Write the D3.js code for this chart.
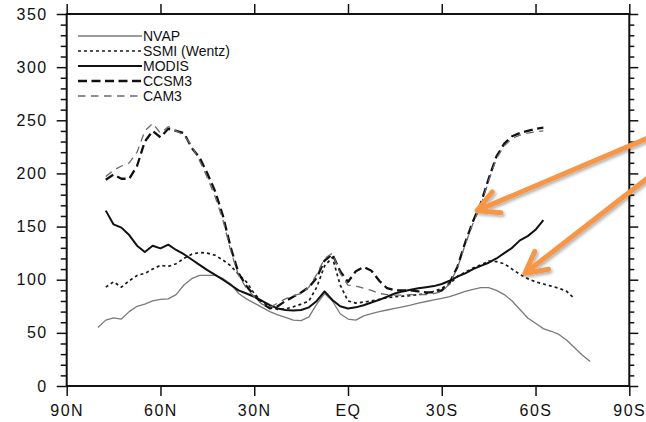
<!DOCTYPE html>
<html>
<head>
<meta charset="utf-8">
<script src="https://cdn.jsdelivr.net/npm/d3@7"></script>
<style>
  body { margin: 0; background: #fff; }
  svg { display: block; font-family: "Liberation Sans", Arial, sans-serif; }
</style>
</head>
<body>
<div id="chart"></div>
<script>
// Latitude grid (degrees, north positive)
var lats = [80, 77.5, 75, 72.5, 70, 67.5, 65, 62.5, 60, 57.5, 55, 52.5, 50, 47.5, 45, 42.5,
    40, 37.5, 35, 32.5, 30, 27.5, 25, 22.5, 20, 17.5, 15, 12.5, 10, 7.5, 5, 2.5,
    0, -2.5, -5, -7.5, -10, -12.5, -15, -17.5, -20, -22.5, -25, -27.5, -30, -32.5, -35, -37.5,
    -40, -42.5, -45, -47.5, -50, -52.5, -55, -57.5, -60, -62.5, -65, -67.5, -70, -72.5, -75, -77.5];

// Zonal mean values (null = no data)
var nvap = [55, 62, 64, 63, 70, 75, 77, 80, 81.5, 82, 86, 95, 101, 104, 104, 104,
    101, 96, 87, 82, 78, 74, 70, 67, 64.5, 62, 61.5, 65, 77, 87, 80, 68,
    63, 62, 66, 68, 70, 71.5, 73, 74.5, 76, 78, 79.5, 81, 82.5, 84, 86.5, 89,
    91, 92.5, 92.5, 90, 86, 80, 72, 64, 59, 54, 51.5, 48.5, 43, 36, 29, 23];

var ssmi = [null, 93, 98, 93, 99, 104, 106, 110, 113.5, 112.5, 115, 120, 124, 125.5, 125, 123,
    118.5, 113, 105, 98, 87, 79, 75, 72, 72.5, 74.5, 77, 80, 93, 113, 121, 95,
    80, 78, 79, 80, 81.5, 83, 84, 84.5, 85, 86, 87, 89, 92, 96, 103, 107,
    111, 114, 117.5, 117, 115, 110, 105, 101, 98, 96, 94, 92, 89, 82, null, null];

var modis = [null, 165, 152, 149, 142, 132, 126, 132, 129.5, 133, 128, 124, 119, 114, 109, 104.5,
    100, 95, 90, 87, 84, 80, 76, 73, 71.5, 71, 71.5, 74, 80, 89, 81, 75,
    73, 74, 76, 78.5, 81, 84, 87, 89, 90.5, 92, 93, 94, 96, 99, 103, 106,
    110, 113, 116, 120, 125, 130, 137, 141, 147, 156, null, null, null, null, null, null];

var ccsm3 = [null, 194, 199, 195, 195, 207, 230, 240, 234, 242, 240, 238, 224, 215, 200, 183,
    160, 130, 106, 94, 85, 78, 73, 75, 80, 84, 88, 93, 102, 118, 124, 108,
    98, 108, 112, 108.5, 99, 92, 90, 90, 90, 89, 88, 88, 90, 97, 112, 135,
    155, 172, 195, 216, 228, 235, 238, 240, 242, 243, null, null, null, null, null, null];

var cam3 = [null, 197, 203, 207, 210, 220, 240, 247, 238, 244, 240, 236, 226, 212, 196, 178,
    156, 127, 104, 92, 84, 77, 74, 78, 82, 85, 87, 93, 105, 120, 125, 106,
    95, 94, 92, 90, 87, 86, 85.5, 85.5, 86, 86, 86, 87, 89, 96, 111, 133,
    153, 170, 193, 214, 226, 233, 236, 238, 239, 240, null, null, null, null, null, null];

var seriesNames = ["NVAP", "SSMI (Wentz)", "MODIS", "CCSM3", "CAM3"];
var seriesValues = [nvap, ssmi, modis, ccsm3, cam3];

var xTickValues = [90, 60, 30, 0, -30, -60, -90];
var xTickLabels = ["90N", "60N", "30N", "EQ", "30S", "60S", "90S"];
var yTickValues = [0, 50, 100, 150, 200, 250, 300, 350];

// Annotation arrows: [lat, value] of tail and tip
var arrowTails = [[-99.8, 238], [-99.8, 204.6]];
var arrowTips = [[-41.3, 165], [-56.6, 106]];

// Line styles, same order as seriesNames
var styles = [
    {stroke: "#7a7a7a", width: 1.3, dash: null},
    {stroke: "#1a1a1a", width: 1.7, dash: "3,3"},
    {stroke: "#111", width: 2, dash: null},
    {stroke: "#111", width: 2.3, dash: "9,4.5"},
    {stroke: "#6a6a6a", width: 1.3, dash: "7.5,5.5"}
];

var svgWidth = 646;
var svgHeight = 422;
var margin = {top: 14, right: 16.7, bottom: 36, left: 66.7};
var width = svgWidth - margin.left - margin.right;
var height = svgHeight - margin.top - margin.bottom;

var svg = d3.select("#chart")
    .append("svg")
    .attr("width", svgWidth)
    .attr("height", svgHeight);

var defs = svg.append("defs");
defs.append("filter").attr("id", "shadow")
    .attr("x", "-20%").attr("y", "-20%").attr("width", "140%").attr("height", "140%")
    .append("feDropShadow")
    .attr("dx", 1.5).attr("dy", 2).attr("stdDeviation", 1.5)
    .attr("flood-color", "#000").attr("flood-opacity", 0.3);

var chart = svg.append("g")
    .attr("transform", `translate(${margin.left}, ${margin.top})`);

var x = d3.scaleLinear().domain([90, -90]).range([0, width]);
var y = d3.scaleLinear().domain([0, 350]).range([height, 0]);

var yMinor = d3.range(0, 351, 10).filter(d => d % 50 !== 0);

// Axes: ticks point outward on all four sides
chart.append("g")
    .attr("class", "axis xb")
    .attr("transform", `translate(0, ${height})`)
    .call(d3.axisBottom(x).tickValues(xTickValues)
        .tickFormat((d, i) => xTickLabels[i]).tickSize(10).tickPadding(9));

chart.append("g")
    .attr("class", "axis")
    .call(d3.axisTop(x).tickValues(xTickValues).tickFormat("").tickSize(10));

chart.append("g")
    .attr("class", "axis yl")
    .call(d3.axisLeft(y).tickValues(yTickValues).tickSize(10).tickPadding(9));

chart.append("g")
    .attr("class", "axis")
    .call(d3.axisLeft(y).tickValues(yMinor).tickFormat("").tickSize(6));

chart.append("g")
    .attr("class", "axis")
    .attr("transform", `translate(${width}, 0)`)
    .call(d3.axisRight(y).tickValues(yTickValues).tickFormat("").tickSize(9));

chart.append("g")
    .attr("class", "axis")
    .attr("transform", `translate(${width}, 0)`)
    .call(d3.axisRight(y).tickValues(yMinor).tickFormat("").tickSize(5));

chart.selectAll(".axis .domain").remove();
chart.selectAll(".axis line").attr("stroke", "#111").attr("stroke-width", 1.5);
chart.selectAll(".axis text")
    .attr("fill", "#111")
    .style("font-size", "16px")
    .style("font-family", "'Liberation Sans', Arial, sans-serif")
    .style("letter-spacing", "1.5px");

// Frame
chart.append("rect")
    .attr("width", width)
    .attr("height", height)
    .attr("fill", "none")
    .attr("stroke", "#111")
    .attr("stroke-width", 2);

// Lines
var line = d3.line()
    .defined(d => d.v != null)
    .x(d => x(d.lat))
    .y(d => y(d.v));

seriesValues.forEach((vals, k) => {
    var pts = lats.map((lat, i) => ({lat: lat, v: vals[i]}));
    chart.append("path")
        .datum(pts)
        .attr("fill", "none")
        .attr("stroke", styles[k].stroke)
        .attr("stroke-width", styles[k].width)
        .attr("stroke-dasharray", styles[k].dash)
        .attr("stroke-linejoin", "round")
        .attr("d", line);
});

// Legend
var legend = svg.append("g").attr("transform", "translate(78, 36)");
seriesNames.forEach((name, k) => {
    var row = legend.append("g").attr("transform", `translate(0, ${k * 15})`);
    row.append("line")
        .attr("x1", 0).attr("x2", 64)
        .attr("stroke", styles[k].stroke)
        .attr("stroke-width", styles[k].width)
        .attr("stroke-dasharray", styles[k].dash);
    row.append("text")
        .attr("x", 65)
        .attr("y", 5)
        .attr("fill", "#111")
        .style("font-size", "14px")
        .text(name);
});

// Orange annotation arrows
var arrows = svg.append("g")
    .attr("transform", `translate(${margin.left}, ${margin.top})`)
    .attr("filter", "url(#shadow)");

arrowTips.forEach((tip, i) => {
    var tail = arrowTails[i];
    var x0 = x(tail[0]), y0 = y(tail[1]);
    var x1 = x(tip[0]), y1 = y(tip[1]);
    var ang = Math.atan2(y0 - y1, x0 - x1);
    var len = 24, spread = 28 * Math.PI / 180;
    var a1 = [x1 + len * Math.cos(ang + spread), y1 + len * Math.sin(ang + spread)];
    var a2 = [x1 + len * Math.cos(ang - spread), y1 + len * Math.sin(ang - spread)];
    arrows.append("path")
        .attr("d", `M${x0},${y0}L${x1},${y1}M${a1[0]},${a1[1]}L${x1},${y1}L${a2[0]},${a2[1]}`)
        .attr("fill", "none")
        .attr("stroke", "#f79646")
        .attr("stroke-width", 5)
        .attr("stroke-linecap", "round")
        .attr("stroke-linejoin", "round");
});
</script>
</body>
</html>
